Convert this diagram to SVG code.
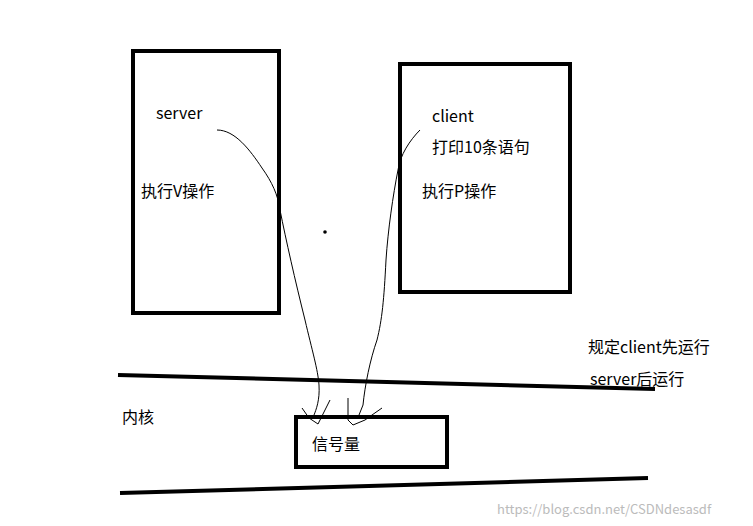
<svg xmlns="http://www.w3.org/2000/svg" width="753" height="526" viewBox="0 0 753 526">
<style>
.box{fill:none;stroke:#000;stroke-width:4}
.ln{fill:none;stroke:#000;stroke-width:4}
.th{fill:none;stroke:#000;stroke-width:1}
text{font-family:"Noto Sans CJK SC","Microsoft YaHei",sans-serif;font-size:16px;fill:#000}
.wm{font-size:13px;fill:#bbb}
</style>
<rect width="753" height="526" fill="#fff"/>
<g id="server"><rect class="box" x="133" y="51" width="146" height="262"/>
<text x="156" y="119">server</text><text x="141" y="197">执行V操作</text></g>
<g id="client"><rect class="box" x="400" y="64" width="170" height="228"/>
<text x="432" y="122">client</text><text x="432" y="153">打印10条语句</text><text x="422" y="197">执行P操作</text></g>
<g id="kernel"><path class="ln" d="M118,375 L655,389"/><path class="ln" d="M120,493 L648,478"/>
<text x="122" y="423">内核</text></g>
<g id="sem"><rect class="box" x="296" y="417" width="151" height="50"/><text x="312" y="450">信号量</text></g>
<g id="note"><text x="588" y="353">规定client先运行</text><text x="590" y="385">server后运行</text></g>
<circle cx="325" cy="232" r="1.8" fill="#000"/>
<g id="connectors">
<path class="th" d="M217,130 C235,130 250,150 262,168 C272,182 278,195 280,210 C286,240 295,280 305,320 C312,350 318,370 319,385 C320,400 316,410 314,415"/>
<path class="th" d="M302,408 L309,418 L318,424 L322,416 L330,400"/>
<path class="th" d="M420,130 C410,140 400,155 398,170 C393,195 388,230 386,260 C384,300 382,320 377,340 C370,360 365,385 363,405 L359,415"/>
<path class="th" d="M348,398 L348,420 L353,425 L365,420 L372,415 L382,408"/>
</g>
<text class="wm" x="497" y="514">https://blog.csdn.net/CSDNdesasdf</text>
</svg>
